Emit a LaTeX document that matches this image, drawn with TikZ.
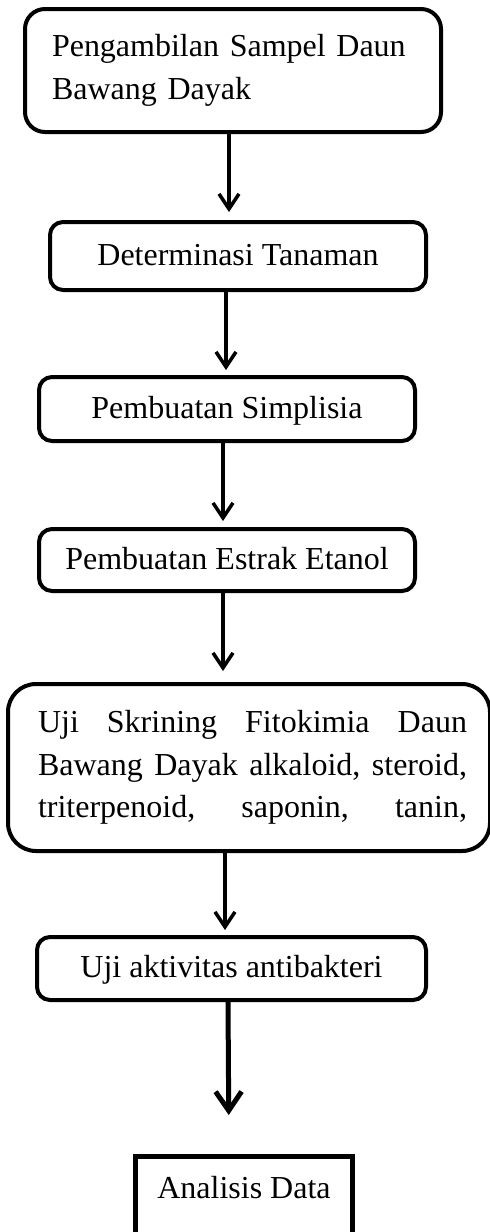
\documentclass[tikz,border=0pt]{standalone}
\usepackage{fontspec}
\setmainfont{Liberation Serif}
\usetikzlibrary{arrows.meta}
\newcommand{\justline}[1]{\leavevmode\hbox to 429pt{#1}}
\begin{document}
\begin{tikzpicture}[x=1pt,y=-1pt,
  box/.style={draw=black, fill=white, line width=4pt, rounded corners=13pt, inner sep=0pt,
    font=\fontsize{32}{42.5}\selectfont},
  onebox/.style={box, text height=21pt, text depth=3pt},
  arr/.style={draw=black, line width=3.5pt, -{Straight Barb[length=15pt,width=20pt]}},
  bigarr/.style={draw=black, line width=5pt, -{Straight Barb[length=19pt,width=26pt]}}]
\useasboundingbox (0,0) rectangle (490,1232);
\clip (0,0) rectangle (490,1232);

\node[box, rounded corners=20pt, minimum width=416pt, minimum height=123pt,
  text width=362pt, align=left] (b1) at (233,70.5)
  {Pengambilan Sampel Daun\\Bawang Dayak};

\node[onebox, minimum width=376pt, minimum height=68pt] (b2) at (238,256)
  {Determinasi Tanaman};

\node[onebox, minimum width=376pt, minimum height=64pt] (b3) at (227,409)
  {Pembuatan Simplisia};

\node[onebox, minimum width=376pt, minimum height=62pt] (b4) at (227,560)
  {Pembuatan Estrak Etanol};

\node[box, rounded corners=28pt, minimum width=482pt, minimum height=167pt,
  text width=436pt, align=right] (b5) at (249,767.5)
  {\justline{Uji\hfill Skrining\hfill Fitokimia\hfill Daun}\\
   \justline{Bawang\hfill Dayak\hfill alkaloid,\hfill steroid,}\\
   \justline{triterpenoid,\hfill saponin,\hfill tanin,}};

\node[onebox, minimum width=389pt, minimum height=63pt] (b6) at (231.5,968.5)
  {Uji aktivitas antibakteri};

\node[draw=black, fill=white, line width=5pt, inner sep=0pt, minimum width=217pt,
  minimum height=140pt, text height=21pt, text depth=78pt,
  font=\fontsize{32}{42.5}\selectfont] (b7) at (244,1226.5) {Analisis Data};

\draw[arr, shorten >=8pt] ([xshift=-4pt]b1.south) -- ([xshift=-9pt]b2.north);
\draw[arr, shorten >=5pt] ([xshift=-12pt]b2.south) -- ([xshift=-1pt]b3.north);
\draw[arr, shorten >=6pt] ([xshift=-4pt]b3.south) -- ([xshift=-4pt]b4.north);
\draw[arr, shorten >=11pt] ([xshift=-4pt]b4.south) -- ([xshift=-26pt]b5.north);
\draw[arr, shorten <=-2pt, shorten >=5pt] ([xshift=-24pt]b5.south) -- ([xshift=-6.5pt]b6.north);
\draw[bigarr, shorten >=39pt] ([xshift=-3.5pt]b6.south) -- ([xshift=-15pt]b7.north);
\end{tikzpicture}
\end{document}
